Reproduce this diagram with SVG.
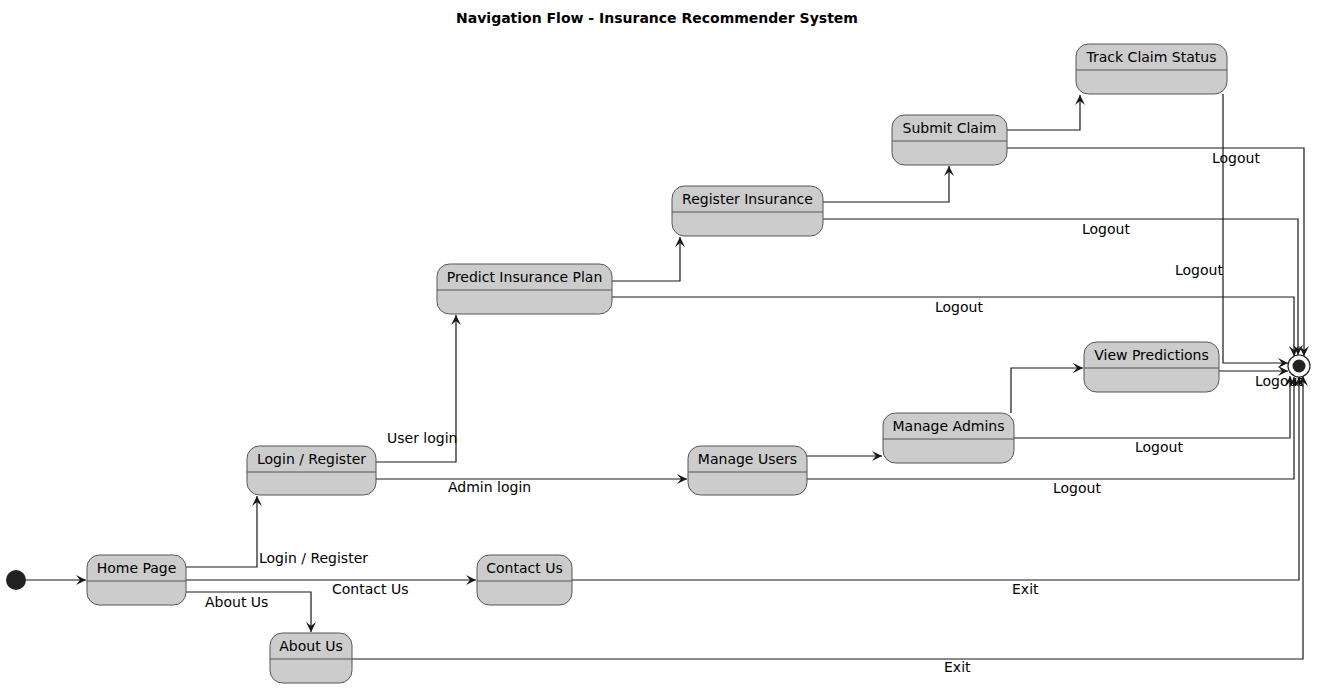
<svg xmlns="http://www.w3.org/2000/svg" width="1325" height="688" viewBox="0 0 1325 688">
<defs>
<style>
.st rect{fill:#CCCCCC;stroke:#555555;stroke-width:1}
.st line{stroke:#555555;stroke-width:1}
.st text{font-family:"DejaVu Sans","Liberation Sans",sans-serif;font-size:14px;fill:#000;text-anchor:middle}
.c path{fill:none;stroke:#181818;stroke-width:1.2}
.lbl{font-family:"DejaVu Sans","Liberation Sans",sans-serif;font-size:14px;fill:#000}
.title{font-family:"DejaVu Sans","Liberation Sans",sans-serif;font-size:14px;font-weight:bold;fill:#000;text-anchor:middle}
</style>
<marker id="arr" viewBox="0 0 10 10" refX="10" refY="5" markerWidth="10" markerHeight="10" markerUnits="userSpaceOnUse" orient="auto">
<path d="M0,0 L10,5 L0,10 L4,5 Z" fill="#181818"/>
</marker>
</defs>
<rect width="1325" height="688" fill="#FFFFFF"/>
<text class="title" x="657" y="23">Navigation Flow - Insurance Recommender System</text>

<g id="connectors" class="c">
<path d="M26,580 H86" marker-end="url(#arr)"/>
<path d="M186,567 H257 V496" marker-end="url(#arr)"/>
<path d="M186,580 H476" marker-end="url(#arr)"/>
<path d="M186,592 H311 V632" marker-end="url(#arr)"/>
<path d="M376,462 H456 V315" marker-end="url(#arr)"/>
<path d="M376,479 H687" marker-end="url(#arr)"/>
<path d="M612,281 H680 V237" marker-end="url(#arr)"/>
<path d="M612,297 H1294 V356" marker-end="url(#arr)"/>
<path d="M823,202 H949 V166" marker-end="url(#arr)"/>
<path d="M823,219 H1298 V355" marker-end="url(#arr)"/>
<path d="M1007,130 H1080 V95" marker-end="url(#arr)"/>
<path d="M1007,148 H1304 V356" marker-end="url(#arr)"/>
<path d="M1223,94 V363 H1288" marker-end="url(#arr)"/>
<path d="M1219,371 H1288" marker-end="url(#arr)"/>
<path d="M807,456 H882" marker-end="url(#arr)"/>
<path d="M807,479 H1294 V377" marker-end="url(#arr)"/>
<path d="M1011,413 V368 H1083" marker-end="url(#arr)"/>
<path d="M1014,438 H1290 V376" marker-end="url(#arr)"/>
<path d="M572,580 H1299 V377" marker-end="url(#arr)"/>
<path d="M352,659 H1303 V376" marker-end="url(#arr)"/>
</g>

<g id="labels">
<text class="lbl" x="259" y="563">Login / Register</text>
<text class="lbl" x="332" y="594">Contact Us</text>
<text class="lbl" x="205" y="607">About Us</text>
<text class="lbl" x="387" y="443">User login</text>
<text class="lbl" x="448" y="492">Admin login</text>
<text class="lbl" x="935" y="312">Logout</text>
<text class="lbl" x="1082" y="234">Logout</text>
<text class="lbl" x="1212" y="163">Logout</text>
<text class="lbl" x="1175" y="275">Logout</text>
<text class="lbl" x="1255" y="386">Logout</text>
<text class="lbl" x="1135" y="452">Logout</text>
<text class="lbl" x="1053" y="493">Logout</text>
<text class="lbl" x="1012" y="594">Exit</text>
<text class="lbl" x="944" y="672">Exit</text>
</g>

<g id="start"><circle cx="16" cy="580" r="10" fill="#222222"/></g>
<g id="end">
<circle cx="1299" cy="366" r="11" fill="#FFFFFF" stroke="#222222" stroke-width="1.2"/>
<circle cx="1299" cy="366" r="6.5" fill="#222222"/>
</g>

<g id="home" class="st"><rect x="87" y="555" width="99" height="50" rx="12.5"/><line x1="87" y1="581" x2="186" y2="581"/><text x="136.5" y="573">Home Page</text></g>
<g id="about" class="st"><rect x="270" y="633" width="82" height="50" rx="12.5"/><line x1="270" y1="659" x2="352" y2="659"/><text x="311" y="651">About Us</text></g>
<g id="contact" class="st"><rect x="477" y="555" width="95" height="50" rx="12.5"/><line x1="477" y1="581" x2="572" y2="581"/><text x="524.5" y="573">Contact Us</text></g>
<g id="login" class="st"><rect x="247" y="446" width="129" height="49" rx="12.5"/><line x1="247" y1="472" x2="376" y2="472"/><text x="311.5" y="464">Login / Register</text></g>
<g id="predict" class="st"><rect x="437" y="264" width="175" height="50" rx="12.5"/><line x1="437" y1="290" x2="612" y2="290"/><text x="524.5" y="282">Predict Insurance Plan</text></g>
<g id="register" class="st"><rect x="672" y="186" width="151" height="50" rx="12.5"/><line x1="672" y1="212" x2="823" y2="212"/><text x="747.5" y="204">Register Insurance</text></g>
<g id="submit" class="st"><rect x="892" y="115" width="115" height="50" rx="12.5"/><line x1="892" y1="141" x2="1007" y2="141"/><text x="949.5" y="133">Submit Claim</text></g>
<g id="track" class="st"><rect x="1076" y="44" width="151" height="50" rx="12.5"/><line x1="1076" y1="70" x2="1227" y2="70"/><text x="1151.5" y="62">Track Claim Status</text></g>
<g id="users" class="st"><rect x="688" y="446" width="119" height="49" rx="12.5"/><line x1="688" y1="472" x2="807" y2="472"/><text x="747.5" y="464">Manage Users</text></g>
<g id="admins" class="st"><rect x="883" y="413" width="131" height="50" rx="12.5"/><line x1="883" y1="439" x2="1014" y2="439"/><text x="948.5" y="431">Manage Admins</text></g>
<g id="viewpred" class="st"><rect x="1084" y="342" width="135" height="50" rx="12.5"/><line x1="1084" y1="368" x2="1219" y2="368"/><text x="1151.5" y="360">View Predictions</text></g>
</svg>
